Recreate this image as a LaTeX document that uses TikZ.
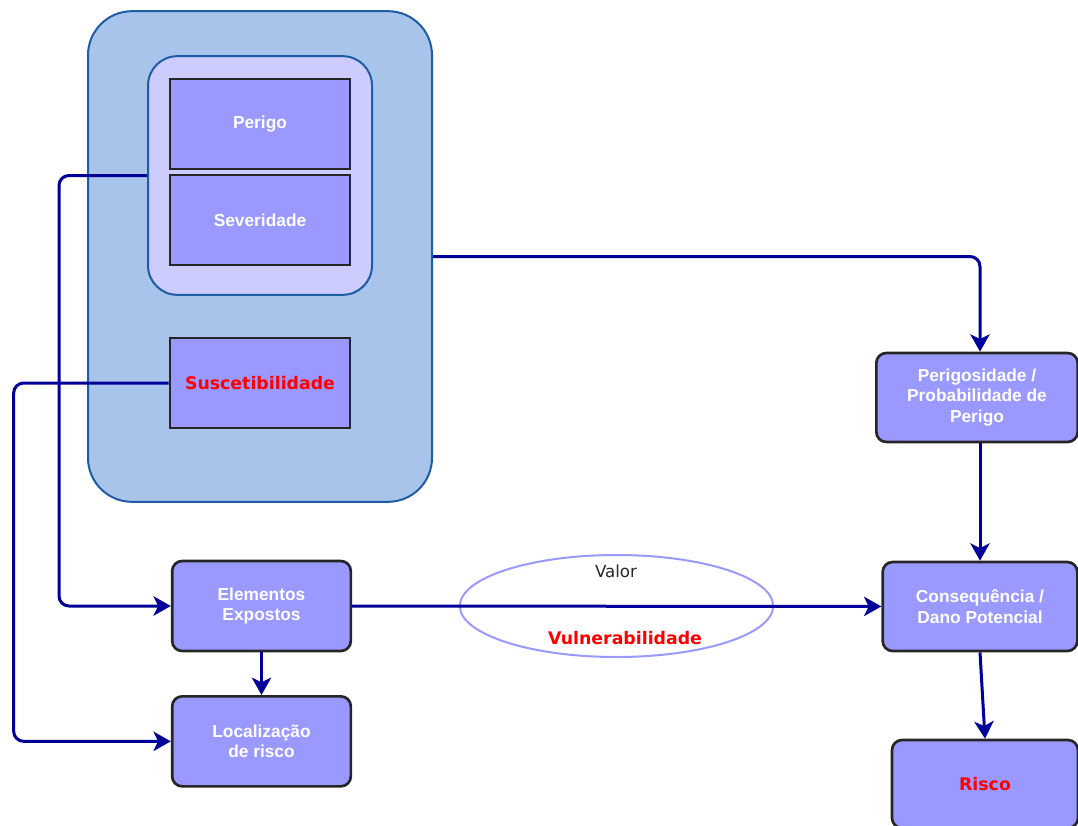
\documentclass[tikz,border=0pt]{standalone}
\usepackage{fontspec}
\setmainfont{Liberation Sans}
\newfontfamily\verdanalike{DejaVu Sans}
\usepackage{tikz}
\usetikzlibrary{arrows.meta,shapes,positioning}

\definecolor{groupfill}{HTML}{A9C4EB}
\definecolor{groupline}{HTML}{1F5CA6}
\definecolor{subfill}{HTML}{CCCCFF}
\definecolor{boxfill}{HTML}{9999FF}
\definecolor{linkblue}{HTML}{000099}
\definecolor{ovalline}{HTML}{9999FF}

\begin{document}
\begin{tikzpicture}[x=0.75pt,y=-0.75pt,>={Stealth[length=13pt,width=14.5pt,inset=3.5pt]}]
      \tikzstyle{group}=[rectangle,draw=groupline,line width=1.5pt,fill=groupfill,rounded corners=33pt,minimum width=258pt,minimum height=368pt]
      \tikzstyle{sub}=[rectangle,draw=groupline,line width=1.5pt,fill=subfill,rounded corners=22pt,minimum width=168pt,minimum height=179pt]
      \tikzstyle{arg}=[rectangle,draw=black!85,line width=2pt,fill=boxfill,minimum width=135pt,minimum height=67.5pt,text=white,align=center,font=\fontsize{13}{15.5}\selectfont\bfseries]
      \tikzstyle{node}=[arg,rounded corners=7.5pt]
      \tikzstyle{warn}=[text=red,font=\verdanalike\fontsize{13}{15.5}\selectfont\bfseries]
      \tikzstyle{link}=[->,draw=linkblue,line width=2.25pt,rounded corners=7.5pt]

      \useasboundingbox (0,0) rectangle (1078,825);

      % hazard group
      \node[group](hazard) at (260,256.5){};
      \node[sub](hazsub) at (260,175.5){};
      \node[arg](perigo) at (260,124){Perigo};
      \node[arg](sever) at (260,220){Severidade};
      \node[arg,warn,text=red](susc) at (260,383){Suscetibilidade};

      % exposure
      \node[node,minimum width=134pt](elem) at (261.5,606){Elementos\\Expostos};
      \node[node,minimum width=134pt,below=32pt of elem](local){Localiza\c{c}\~ao\\de risco};

      % vulnerability
      \node[ellipse,draw=ovalline,line width=1.5pt,fill=white,minimum width=235pt,minimum height=76.5pt](vuln) at (616.5,606){};
      \node[font=\verdanalike\fontsize{12.5}{15}\selectfont,text=black!85](valtxt) at (616,571){Valor};
      \node[warn](vultxt) at (625,638){Vulnerabilidade};

      % right column
      \node[node,minimum width=151pt,minimum height=66.75pt](perig) at (977,397.5){Perigosidade /\\Probabilidade de\\Perigo};
      \node[node,minimum width=146pt,minimum height=66.75pt](conseq) at (980,606.5){Consequ\^encia /\\Dano Potencial};
      \node[node,warn,minimum width=139.5pt,minimum height=66pt](risco) at (985,784){Risco};

      \draw[link] (hazsub.west) -- ++(-88,0) |- (elem.west);
      \draw[link] (susc.west) -- ++(-155,0) |- (local.west);
      \draw[link] (hazard.east) -| (conseq.north |- perig.north);
      \path
      (elem) edge[link] (local)
      (elem) edge[link] (conseq)
      (perig.south -| conseq.north) edge[link] (conseq.north)
      (conseq.south) edge[link] (risco.north);
    \end{tikzpicture}
\end{document}
